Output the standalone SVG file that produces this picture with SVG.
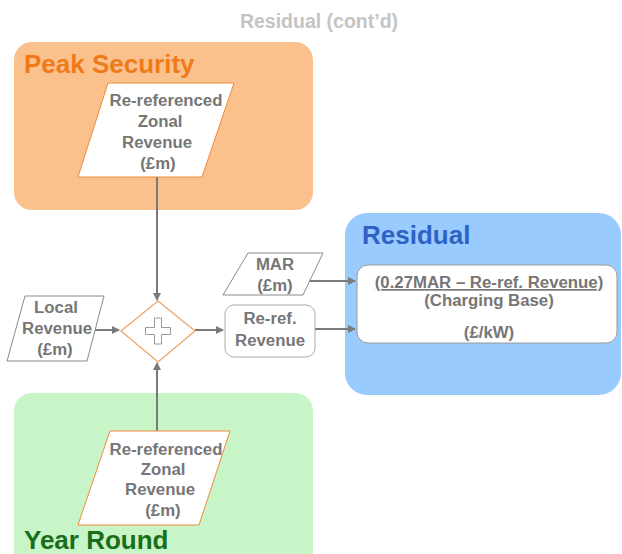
<svg xmlns="http://www.w3.org/2000/svg" width="622" height="554" viewBox="0 0 622 554">
<style>
text{font-family:"Liberation Sans",Arial,sans-serif;font-weight:bold}
.t{fill:#767676;font-size:16.8px;text-anchor:middle}
.para{fill:#fff;stroke:#f08a3a;stroke-width:1}
.gpara{fill:#fff;stroke:#8a8a8a;stroke-width:1}
.conn{stroke:#7a7a7a;stroke-width:2;fill:none}
.hd{font-size:26px}
</style>
<defs>
<marker id="ah" markerWidth="8" markerHeight="8" refX="7" refY="4" orient="auto" markerUnits="userSpaceOnUse">
<path d="M0,0 L8,4 L0,8 Z" fill="#7a7a7a"/>
</marker>
</defs>
<rect width="622" height="554" fill="#fff"/>
<text x="319" y="28" text-anchor="middle" font-size="19.5" fill="#c4c4c4">Residual (cont’d)</text>

<g id="peak">
<rect x="14" y="42" width="299" height="168" rx="18" fill="#fbc18c"/>
<text x="24" y="73" class="hd" fill="#f07a18">Peak Security</text>
</g>
<g id="year">
<rect x="14" y="393" width="299" height="180" rx="18" fill="#c8f5c8"/>
<text x="24" y="549" class="hd" fill="#1a6e1a">Year Round</text>
</g>
<g id="residual">
<rect x="345" y="213" width="276" height="182" rx="22" fill="#99cbff"/>
<text x="362" y="244" class="hd" fill="#2e62c4">Residual</text>
</g>

<g id="connectors">
<line class="conn" x1="157" y1="177" x2="157" y2="300" marker-end="url(#ah)"/>
<line class="conn" x1="157" y1="431" x2="157" y2="363" marker-end="url(#ah)"/>
<line class="conn" x1="93" y1="330" x2="119" y2="330" marker-end="url(#ah)"/>
<line class="conn" x1="195" y1="330" x2="223" y2="330" marker-end="url(#ah)"/>
<line class="conn" x1="308" y1="281" x2="355" y2="281" marker-end="url(#ah)"/>
<line class="conn" x1="315" y1="329" x2="355" y2="329" marker-end="url(#ah)"/>
</g>

<g id="peak-zonal">
<polygon class="para" points="108,83 234,83 202,177 78,177"/>
<text class="t"><tspan x="166" y="106">Re-referenced</tspan><tspan x="160" y="127">Zonal</tspan><tspan x="157" y="148">Revenue</tspan><tspan x="158" y="169">(£m)</tspan></text>
</g>

<g id="year-zonal">
<polygon class="para" points="110,431 230,431 199,525 78,525"/>
<text class="t"><tspan x="166" y="455">Re-referenced</tspan><tspan x="163" y="475">Zonal</tspan><tspan x="160" y="495">Revenue</tspan><tspan x="163" y="516">(£m)</tspan></text>
</g>

<g id="local">
<polygon class="gpara" points="25,296 104,296 87,361 7,361"/>
<text class="t"><tspan x="56" y="313">Local</tspan><tspan x="57" y="334">Revenue</tspan><tspan x="55" y="355">(£m)</tspan></text>
</g>

<g id="sum">
<polygon points="158,301 195,331 158,362 121,331" fill="#fff" stroke="#f0a060" stroke-width="1.2"/>
<path d="M154.5,318 h7 v9.5 h9 v7 h-9 v9.5 h-7 v-9.5 h-9 v-7 h9 Z" fill="#fff" stroke="#9a9a9a" stroke-width="1"/>
</g>

<g id="mar">
<polygon class="gpara" points="248,253 323,253 303,295 223,295"/>
<text class="t"><tspan x="275" y="270">MAR</tspan><tspan x="275" y="291">(£m)</tspan></text>
</g>

<g id="reref">
<rect x="225" y="305" width="90" height="52" rx="9" fill="#fff" stroke="#a8a8a8" stroke-width="1"/>
<text class="t"><tspan x="270" y="324">Re-ref.</tspan><tspan x="270" y="346">Revenue</tspan></text>
</g>

<g id="charging">
<rect x="357" y="265" width="260" height="78" rx="11" fill="#fff" stroke="#9a9a9a" stroke-width="1"/>
<text class="t" x="489" y="288" text-decoration="underline">(0.27MAR – Re-ref. Revenue)</text>
<text class="t" x="489" y="306">(Charging Base)</text>
<text class="t" x="489" y="338">(£/kW)</text>
</g>
</svg>
